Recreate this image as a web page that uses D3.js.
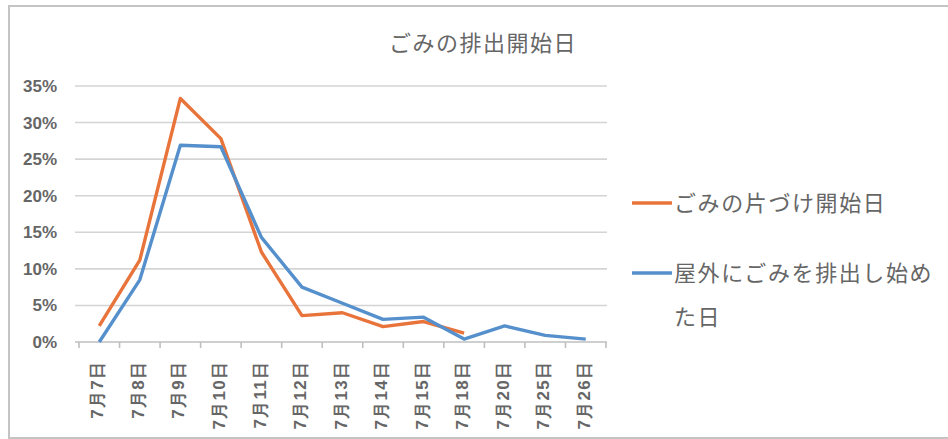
<!DOCTYPE html>
<html><head><meta charset="utf-8">
<script src="https://cdn.jsdelivr.net/npm/d3@7"></script>
<style>body{margin:0;background:#fff;} svg{display:block;font-family:"Noto Sans CJK JP","Noto Sans",sans-serif;}</style>
</head><body>
<svg id="c" width="948" height="439"></svg>
<script>
const title = "ごみの排出開始日";
const categories = ["7月7日","7月8日","7月9日","7月10日","7月11日","7月12日","7月13日","7月14日","7月15日","7月18日","7月20日","7月25日","7月26日"];
const seriesNames = ["ごみの片づけ開始日","屋外にごみを排出し始めた日"];
const cleanupStart = [2.2, 11.2, 33.3, 27.8, 12.3, 3.6, 4.0, 2.1, 2.8, 1.2, null, null, null];
const outdoorStart = [0.0, 8.5, 26.9, 26.7, 14.3, 7.5, 5.3, 3.1, 3.4, 0.4, 2.2, 0.9, 0.4];
const yTicks = [0,5,10,15,20,25,30,35];
const colors = ["#E8743B","#5590CC"];

const svg = d3.select("#c");
// frame
svg.append("rect").attr("x",9).attr("y",6).attr("width",960).attr("height",432)
  .attr("fill","none").attr("stroke","#c4c4c4").attr("stroke-width",2);

const x = d3.scaleBand().domain(categories).range([79,606]);
const y = d3.scaleLinear().domain([0,35]).range([342,86]);

// gridlines
svg.append("g").selectAll("line").data(yTicks.filter(d=>d>0)).join("line")
  .attr("x1",75).attr("x2",607).attr("y1",d=>y(d)).attr("y2",d=>y(d))
  .attr("stroke","#d4d4d4").attr("stroke-width",1.6);

// y axis labels
const yAxis = d3.axisLeft(y).tickValues(yTicks).tickFormat(d=>d+"%").tickSize(0).tickPadding(0);
const gy = svg.append("g").attr("transform","translate(57,0)").call(yAxis);
gy.select(".domain").remove();
gy.selectAll("text").attr("fill","#666").style("font-size","17px")
  .style("font-family","'Liberation Sans',Arial,sans-serif").style("font-weight","bold");

// x axis
const xAxis = d3.axisBottom(x).tickSizeOuter(0).tickSize(0);
const gx = svg.append("g").attr("transform",`translate(0,${y(0)})`).call(xAxis);
gx.select(".domain").attr("stroke","#bfbfbf").attr("stroke-width",1.6).attr("d","M75,0H607");
// boundary ticks
svg.append("g").selectAll("line").data(d3.range(categories.length+1)).join("line")
  .attr("x1",i=>79+i*x.step()).attr("x2",i=>79+i*x.step())
  .attr("y1",y(0)).attr("y2",y(0)+6).attr("stroke","#bfbfbf").attr("stroke-width",1.6);
gx.selectAll(".tick text")
  .attr("fill","#666").style("font-size","17px").style("letter-spacing","1.2px").style("font-weight","bold")
  .attr("text-anchor","end").attr("dy","0.36em")
  .attr("x",0).attr("y",0)
  .attr("transform","translate(-2,19) rotate(-90)");

// lines
const line = d3.line().defined(d=>d.v!=null).x(d=>x(d.c)+x.bandwidth()/2).y(d=>y(d.v));
[cleanupStart, outdoorStart].forEach((s,i)=>{
  svg.append("path").datum(categories.map((c,j)=>({c,v:s[j]})))
    .attr("d",line).attr("fill","none").attr("stroke",colors[i]).attr("stroke-width",3.4)
    .attr("stroke-linejoin","round");
});

// title
svg.append("text").attr("x",483).attr("y",51).attr("text-anchor","middle")
  .attr("fill","#666").style("font-size","22px").style("letter-spacing","1.5px").text(title);

// legend
const lg = svg.append("g");
const legendRows = [{y:203, lines:[seriesNames[0]]},{y:273, lines:["屋外にごみを排出し始め","た日"]}];
legendRows.forEach((r,i)=>{
  lg.append("line").attr("x1",632).attr("x2",672).attr("y1",r.y).attr("y2",r.y)
    .attr("stroke",colors[i]).attr("stroke-width",3.6);
  r.lines.forEach((t,k)=>{
    lg.append("text").attr("x",674).attr("y",r.y+k*44).attr("dy","0.36em")
      .attr("fill","#666").style("font-size","22px").style("letter-spacing","1.6px").text(t);
  });
});
</script>
</body></html>
